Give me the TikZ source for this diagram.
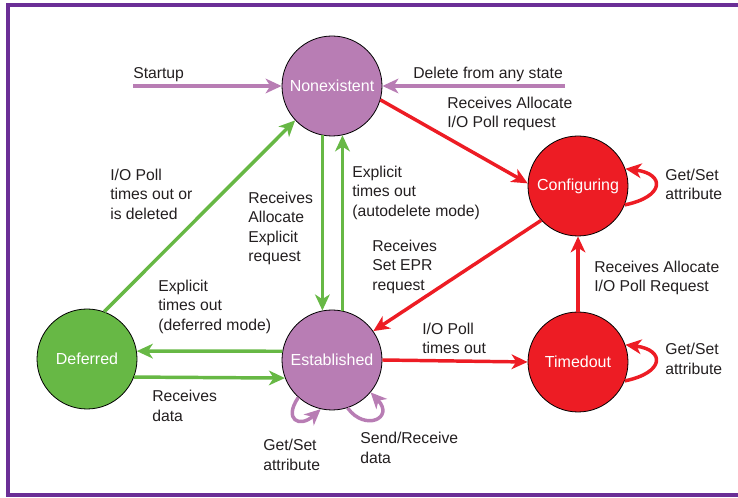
\documentclass[tikz,border=0pt]{standalone}
\usepackage{fontspec}
\setmainfont{Liberation Sans}
\usetikzlibrary{arrows.meta}
\definecolor{frm}{HTML}{6B2E96}
\definecolor{purp}{HTML}{B87DB4}
\definecolor{grn}{HTML}{67B845}
\definecolor{rd}{HTML}{ED1C24}
\definecolor{txt}{HTML}{231F20}
\begin{document}
\begin{tikzpicture}[x=0.75pt,y=-0.75pt,
  state/.style={circle,draw=black,line width=0.6pt,minimum size=75pt,inner sep=0pt,text=white,font=\fontsize{12}{14}\selectfont},
  lbl/.style={anchor=north west,inner sep=0pt,align=left,text=txt,font=\fontsize{11.8}{14.5}\selectfont},
  conn/.style={line width=2.6pt,-{Stealth[length=12pt,width=11pt,inset=3.5pt]}},
  pconn/.style={conn,draw=purp},
  gconn/.style={conn,draw=grn},
  rconn/.style={conn,draw=rd}]
\useasboundingbox (0,0) rectangle (738,498);
\begin{scope}
\clip (0,0) rectangle (738,498);
\draw[frm,line width=2.4pt] (8,5) rectangle (760,495);
\end{scope}
% states
\node[state,fill=purp] (non) at (332,86) {Nonexistent};
\node[state,fill=rd] (conf) at (578,186) {Configuring};
\node[state,fill=rd] (tim) at (578,362) {Timedout};
\node[state,fill=grn] (def) at (87,359) {Deferred};
\node[state,fill=purp] (est) at (332,360) {Established};
% free ends
\coordinate (su) at (133,86);
\coordinate (del) at (565,86);
% purple
\draw[pconn] (su) -- (non.west);
\draw[pconn] (del) -- (non.east);
\draw[pconn] (est.228) .. controls (283,420) and (300,428) .. (est.257);
\draw[pconn] (est.-72) .. controls (365,432) and (395,418) .. (est.-40);
% red
\draw[rconn] (non.-16) -- (conf.177);
\draw[rconn] (conf.223) -- (est.35);
\draw[rconn] (est.east) -- (tim.west);
\draw[rconn] (tim.north) -- (conf.south);
\draw[rconn] (conf.-22) .. controls +(40,-8) and +(40,5) .. (conf.20);
\draw[rconn] (tim.-22) .. controls +(40,-8) and +(40,5) .. (tim.20);
% green
\draw[gconn] (def.70) -- (non.223);
\draw[gconn] (non.-101.5) -- (est.101.5);
\draw[gconn] (est.78.5) -- (non.-78.5);
\draw[gconn] (est.170.8) -- (def.9.2);
\draw[gconn] (def.-21.1) -- (est.201.1);
% labels
\node[lbl] (l1) at (133,67) {Startup};
\node[lbl] (l2) at (413,67) {Delete from any state};
\node[lbl] (l3) at (447,97) {Receives Allocate\\I/O Poll request};
\node[lbl] (l4) at (665,169) {Get/Set\\attribute};
\node[lbl] (l5) at (110,169) {I/O Poll\\times out or\\is deleted};
\node[lbl] (l6) at (248,192) {Receives\\Allocate\\Explicit\\request};
\node[lbl] (l7) at (352,166) {Explicit\\times out\\(autodelete mode)};
\node[lbl] (l8) at (372,240) {Receives\\Set EPR\\request};
\node[lbl] (l9) at (594,261) {Receives Allocate\\I/O Poll Request};
\node[lbl] (l10) at (158,280) {Explicit\\times out\\(deferred mode)};
\node[lbl] (l11) at (422,323) {I/O Poll\\times out};
\node[lbl] (l12) at (665,343) {Get/Set\\attribute};
\node[lbl] (l13) at (152,390) {Receives\\data};
\node[lbl] (l14) at (263,439) {Get/Set\\attribute};
\node[lbl] (l15) at (360,432) {Send/Receive\\data};
\end{tikzpicture}
\end{document}
